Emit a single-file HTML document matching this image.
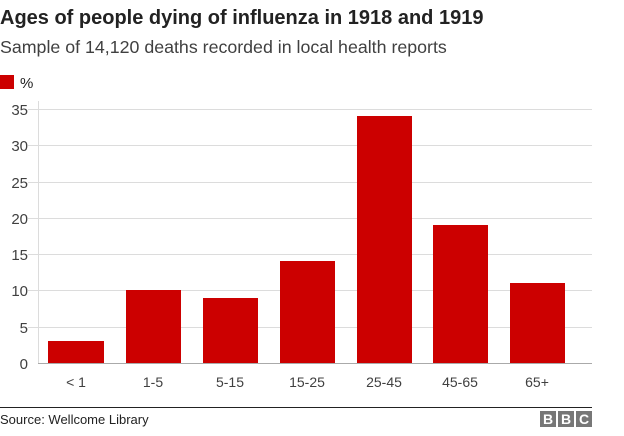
<!DOCTYPE html>
<html><head><style>
body{margin:0;width:624px;height:431px;background:#fff;font-family:"Liberation Sans",Arial,sans-serif;overflow:hidden}
</style></head><body>
<svg width="624" height="431" xmlns="http://www.w3.org/2000/svg" font-family="Liberation Sans, Arial, sans-serif">
<text x="0" y="24" font-size="20" font-weight="bold" fill="#222">Ages of people dying of influenza in 1918 and 1919</text>
<text x="0" y="53" font-size="17.8" fill="#404040">Sample of 14,120 deaths recorded in local health reports</text>
<rect x="0" y="75" width="14" height="14" fill="#cc0000"/>
<text x="20" y="88" font-size="15" fill="#222">%</text>
<g stroke="#dcdcdc" stroke-width="1">
<line x1="28" x2="592" y1="109.5" y2="109.5"/>
<line x1="28" x2="592" y1="145.5" y2="145.5"/>
<line x1="28" x2="592" y1="182.5" y2="182.5"/>
<line x1="28" x2="592" y1="218.5" y2="218.5"/>
<line x1="28" x2="592" y1="254.5" y2="254.5"/>
<line x1="28" x2="592" y1="290.5" y2="290.5"/>
<line x1="28" x2="592" y1="327.5" y2="327.5"/>
<line x1="38.5" x2="38.5" y1="101" y2="363"/>
</g>
<g font-size="15" fill="#404040" text-anchor="end">
<text x="28" y="115">35</text><text x="28" y="151">30</text><text x="28" y="188">25</text>
<text x="28" y="224">20</text><text x="28" y="260">15</text><text x="28" y="296">10</text>
<text x="28" y="333">5</text><text x="28" y="369">0</text>
</g>
<g fill="#cc0000">
<rect x="48" y="341" width="56" height="22"/>
<rect x="126" y="290" width="55" height="73"/>
<rect x="203" y="298" width="55" height="65"/>
<rect x="280" y="261" width="55" height="102"/>
<rect x="357" y="116" width="55" height="247"/>
<rect x="433" y="225" width="55" height="138"/>
<rect x="510" y="283" width="55" height="80"/>
</g>
<line x1="38" x2="592" y1="363.5" y2="363.5" stroke="#aaa"/>
<g font-size="14" fill="#404040" text-anchor="middle">
<text x="76" y="387">&lt; 1</text><text x="153" y="387">1-5</text><text x="230" y="387">5-15</text>
<text x="307" y="387">15-25</text><text x="384" y="387">25-45</text><text x="460" y="387">45-65</text><text x="537" y="387">65+</text>
</g>
<line x1="0" x2="592" y1="407.5" y2="407.5" stroke="#222"/>
<text x="0" y="424" font-size="13" fill="#222">Source: Wellcome Library</text>
<g fill="#777"><rect x="540" y="411" width="16" height="16"/><rect x="558" y="411" width="16" height="16"/><rect x="576" y="411" width="16" height="16"/></g>
<g fill="#fff" font-size="14" font-weight="bold" text-anchor="middle">
<text x="548" y="424">B</text><text x="566" y="424">B</text><text x="584" y="424">C</text></g>
</svg>
</body></html>
